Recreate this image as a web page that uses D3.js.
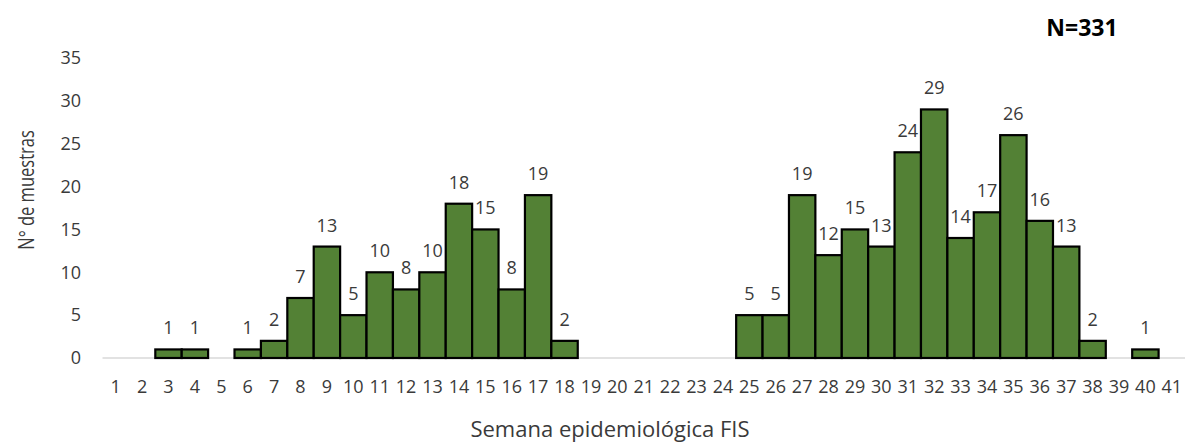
<!DOCTYPE html>
<html>
<head>
<meta charset="utf-8">
<script src="https://cdn.jsdelivr.net/npm/d3@7"></script>
<style>
  html, body { margin: 0; padding: 0; background: #fff; }
  svg { display: block; }
</style>
</head>
<body>
<svg id="chart" width="1188" height="445"></svg>
<script>
const weeks = d3.range(1, 42).map(String);
const counts = [0,0,1,1,0,1,2,7,13,5,10,8,10,18,15,8,19,2,0,0,0,0,0,0,5,5,19,12,15,13,24,29,14,17,26,16,13,2,0,1,0];
const yTicks = [0,5,10,15,20,25,30,35];
const xTitle = "Semana epidemiológica FIS";
const yTitle = "N° de muestras";
const note = "N=331";

const data = weeks.map((w, i) => ({ week: w, value: counts[i] }));

const svg = d3.select("#chart");
const font = "'Open Sans', sans-serif";
const textColor = "#3a3a3a";

const x = d3.scaleBand().domain(weeks).range([102.5, 1185]).paddingInner(0).paddingOuter(0);
const y = d3.scaleLinear().domain([0, 35]).range([358, 58]);

// y tick labels
svg.append("g").selectAll("text").data(yTicks).join("text")
  .attr("x", 81).attr("y", d => y(d)).attr("dy", "0.35em")
  .attr("text-anchor", "end")
  .attr("font-family", font).attr("font-size", 18).attr("fill", textColor)
  .text(d => d);

// baseline axis
svg.append("line")
  .attr("x1", x.range()[0]).attr("x2", x.range()[1])
  .attr("y1", y(0)).attr("y2", y(0))
  .attr("stroke", "#d9d9d9").attr("stroke-width", 1.5);

// bars
svg.append("g").selectAll("rect").data(data.filter(d => d.value > 0)).join("rect")
  .attr("x", d => x(d.week))
  .attr("y", d => y(d.value))
  .attr("width", x.bandwidth())
  .attr("height", d => y(0) - y(d.value))
  .attr("fill", "#538135")
  .attr("stroke", "#000").attr("stroke-width", 2.2);

// data labels
svg.append("g").selectAll("text").data(data.filter(d => d.value > 0)).join("text")
  .attr("x", d => x(d.week) + x.bandwidth() / 2)
  .attr("y", d => y(d.value) - 15)
  .attr("text-anchor", "middle")
  .attr("font-family", font).attr("font-size", 18).attr("fill", textColor)
  .text(d => d.value);

// x tick labels
svg.append("g").selectAll("text").data(weeks).join("text")
  .attr("x", d => x(d) + x.bandwidth() / 2)
  .attr("y", 393)
  .attr("text-anchor", "middle")
  .attr("font-family", font).attr("font-size", 18).attr("fill", textColor)
  .text(d => d);

// x title
svg.append("text")
  .attr("x", 610).attr("y", 437)
  .attr("text-anchor", "middle")
  .attr("font-family", font).attr("font-size", 22).attr("fill", textColor)
  .text(xTitle);

// y title
svg.append("text")
  .attr("transform", "translate(34,190) rotate(-90) scale(1,1.35)")
  .attr("text-anchor", "middle")
  .attr("font-family", font).attr("font-size", 16.5).attr("fill", textColor)
  .text(yTitle);

// N note
svg.append("text")
  .attr("x", 1082).attr("y", 36)
  .attr("text-anchor", "middle")
  .attr("font-family", font).attr("font-size", 23).attr("font-weight", "bold").attr("fill", "#000")
  .text(note);
</script>
</body>
</html>
